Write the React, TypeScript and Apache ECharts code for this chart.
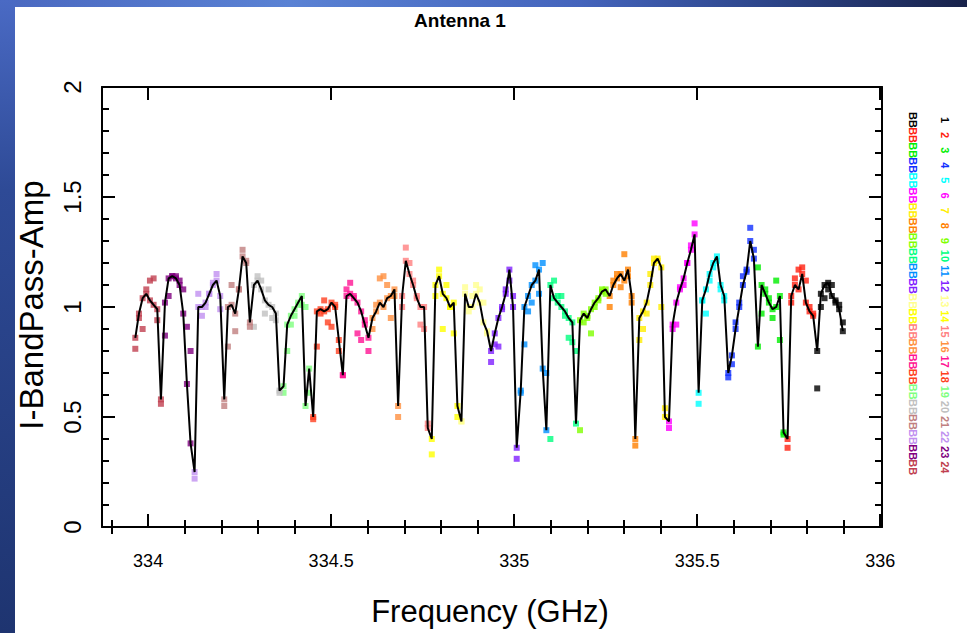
import React, { useEffect, useRef } from "react";
import * as echarts from "echarts";

// spectral windows, listed 1..24 (legend order, top to bottom)
const spwNames = ["1", "2", "3", "4", "5", "6", "7", "8", "9", "10", "11", "12", "13", "14", "15", "16", "17", "18", "19", "20", "21", "22", "23", "24"];
const spwColors = [
  "#000000", "#ff2010", "#00ee00", "#1030ff", "#00ffff", "#ff00ff", "#ffee00", "#ff8000",
  "#80ff00", "#00ff80", "#0090ff", "#8020ff", "#ffff90", "#ffff00", "#ff8080", "#ff9040",
  "#ff1493", "#ff4020", "#80ff80", "#c0c0c0", "#c08080", "#c090f0", "#800080", "#c04050",
];
// first channel frequency of each spw (GHz)
const spwStartGHz = [
  335.828, 335.747, 335.666, 335.585, 335.504, 335.423, 335.342, 335.261,
  335.180, 335.099, 335.018, 334.937, 334.856, 334.775, 334.694, 334.613,
  334.532, 334.451, 334.370, 334.289, 334.208, 334.127, 334.046, 333.965,
];
const chanWidthGHz = 0.01;

// amplitude, correlation joined by the black line
const ampLine = [
  [0.80, 1.06, 1.10, 1.11, 1.05, 1.03, 0.99, 0.89],
  [0.40, 1.05, 1.10, 1.08, 1.15, 1.02, 0.98, 0.96],
  [0.82, 1.10, 1.06, 1.02, 0.99, 1.00, 1.05, 0.43],
  [0.70, 0.78, 0.90, 1.00, 1.10, 1.16, 1.30, 1.22],
  [0.61, 1.03, 1.08, 1.15, 1.20, 1.23, 1.10, 1.05],
  [0.48, 0.92, 1.02, 1.08, 1.13, 1.20, 1.26, 1.33],
  [0.95, 0.98, 1.02, 1.10, 1.20, 1.22, 1.18, 0.50],
  [1.05, 1.10, 1.13, 1.15, 1.12, 1.17, 1.05, 0.40],
  [0.94, 0.97, 0.95, 0.99, 1.02, 1.04, 1.07, 1.08],
  [1.10, 1.04, 1.02, 1.00, 0.98, 0.95, 0.93, 0.47],
  [0.62, 1.00, 1.05, 1.10, 1.12, 1.17, 0.72, 0.44],
  [0.80, 0.88, 0.95, 1.00, 1.06, 1.17, 1.00, 0.36],
  [0.48, 1.06, 1.00, 1.00, 1.06, 1.02, 0.93, 0.89],
  [0.40, 1.10, 1.14, 1.06, 1.04, 1.00, 1.02, 0.55],
  [1.05, 1.21, 1.15, 1.10, 1.04, 1.00, 1.00, 0.45],
  [0.95, 0.98, 1.02, 1.00, 1.04, 1.05, 1.08, 0.55],
  [0.69, 1.05, 1.06, 1.04, 1.02, 0.98, 0.92, 0.86],
  [0.50, 0.98, 0.99, 0.98, 0.99, 1.02, 1.00, 0.85],
  [0.64, 0.92, 0.96, 0.99, 1.02, 1.05, 0.55, 0.72],
  [1.10, 1.12, 1.08, 1.03, 1.01, 1.00, 0.97, 0.62],
  [0.58, 1.00, 1.01, 0.97, 1.08, 1.23, 1.20, 0.93],
  [0.25, 1.00, 1.00, 1.02, 1.06, 1.10, 1.12, 1.05],
  [1.02, 1.13, 1.14, 1.13, 1.10, 0.97, 0.65, 0.38],
  [0.86, 0.97, 1.04, 1.06, 1.03, 1.01, 0.99, 0.58],
];
// amplitude, second correlation (points only)
const ampPoints = [
  [0.63, 1.00, 1.04, 1.08, 1.10, 1.02, 1.01, 0.93],
  [0.36, 1.02, 1.13, 1.17, 1.18, 1.12, 1.00, 0.97],
  [1.18, 0.97, 1.08, 1.04, 0.95, 1.12, 0.85, 0.42],
  [0.68, 0.74, 0.93, 1.02, 1.14, 1.17, 1.36, 1.26],
  [0.56, 1.03, 0.97, 1.12, 1.18, 1.21, 1.08, 1.03],
  [0.45, 0.90, 0.92, 1.09, 1.10, 1.20, 1.28, 1.38],
  [0.85, 0.90, 0.97, 1.15, 1.22, 1.21, 1.00, 0.54],
  [1.00, 1.12, 1.15, 1.09, 1.24, 1.14, 1.02, 0.37],
  [0.44, 0.93, 0.96, 0.88, 1.00, 1.03, 1.08, 1.06],
  [0.40, 1.12, 1.05, 1.05, 0.96, 0.86, 0.84, 0.80],
  [0.61, 0.83, 0.98, 1.02, 1.19, 1.06, 1.20, 0.70],
  [0.75, 0.83, 0.82, 0.99, 1.08, 1.12, 1.05, 0.31],
  [0.48, 1.09, 0.98, 1.05, 1.10, 1.08, 1.02, 0.88],
  [0.33, 1.05, 1.17, 0.90, 1.10, 1.00, 0.88, 0.50],
  [1.00, 1.27, 1.20, 1.12, 1.05, 0.92, 0.90, 0.47],
  [0.90, 1.01, 1.13, 1.14, 1.10, 0.95, 1.05, 0.50],
  [0.69, 1.08, 1.11, 1.05, 0.88, 0.85, 0.94, 0.80],
  [0.49, 0.82, 0.97, 1.03, 0.93, 0.91, 1.01, 0.80],
  [0.61, 0.80, 0.92, 0.96, 1.01, 1.01, 1.00, 0.61],
  [0.91, 1.14, 1.12, 0.97, 1.08, 0.95, 0.94, 0.61],
  [0.55, 0.82, 1.10, 0.89, 1.08, 1.26, 1.21, 0.91],
  [0.22, 1.06, 0.96, 1.00, 1.06, 1.11, 1.15, 0.99],
  [0.87, 1.05, 1.14, 1.14, 1.12, 1.08, 0.91, 0.80],
  [0.81, 0.95, 0.90, 1.08, 1.12, 1.13, 0.94, 0.56],
];

const xMajorTicks = [334, 334.5, 335, 335.5, 336];
const xMinorTicks = [333.9, 334.1, 334.2, 334.3, 334.4, 334.6, 334.7, 334.8, 334.9, 335.1, 335.2, 335.3, 335.4, 335.6, 335.7, 335.8, 335.9];

const X_MIN = 333.874;
const X_MAX = 336.005;
const Y_MIN = 0;
const Y_MAX = 2;

export default function App() {
  const ref = useRef<HTMLDivElement>(null);

  useEffect(() => {
    const chart = echarts.init(ref.current!, null, { renderer: "svg" });

    const chanFreq = (s: number, k: number) => +(spwStartGHz[s] + k * chanWidthGHz).toFixed(4);

    const scatterSeries = spwNames.map((name, s) => {
      const data: number[][] = [];
      ampLine[s].forEach((a, k) => data.push([chanFreq(s, k), a]));
      ampPoints[s].forEach((a, k) => data.push([chanFreq(s, k), a]));
      return {
        name,
        type: "scatter",
        symbol: "rect",
        symbolSize: 6,
        itemStyle: { color: spwColors[s] },
        data,
        z: 2,
      };
    });

    const lineData: number[][] = [];
    spwNames.forEach((_, s) => ampLine[s].forEach((a, k) => lineData.push([chanFreq(s, k), a])));
    lineData.sort((p, q) => p[0] - q[0]);

    const font = "Liberation Sans";
    const MAJ = 13;
    const MIN = 7;
    const tickLine = { color: "#000", width: 2 };

    const legendGraphics: any[] = [];
    spwNames.forEach((name, i) => {
      const yc = 120 + i * 15.1;
      const common = {
        fill: spwColors[i],
        fontSize: 11,
        fontWeight: "bold",
        fontFamily: font,
        align: "center",
        verticalAlign: "middle",
      };
      legendGraphics.push({ type: "text", x: 913, y: yc, rotation: -Math.PI / 2, style: { ...common, text: "BB" } });
      legendGraphics.push({ type: "text", x: 945, y: yc, rotation: -Math.PI / 2, style: { ...common, text: name } });
    });

    const option: any = {
      animation: false,
      backgroundColor: "#ffffff",
      grid: { left: 102, top: 87, width: 780, height: 440, containLabel: false },
      xAxis: [
        {
          type: "value",
          position: "bottom",
          min: X_MIN,
          max: X_MAX,
          splitLine: { show: false },
          axisLine: { show: true, onZero: false, lineStyle: { color: "#000", width: 2 } },
          axisTick: { show: true, inside: true, length: MAJ, customValues: xMajorTicks, lineStyle: tickLine },
          axisLabel: {
            show: true,
            customValues: xMajorTicks,
            margin: 25,
            fontSize: 18,
            fontFamily: font,
            color: "#000",
            formatter: (v: number) => String(v),
          },
        },
        {
          type: "value",
          position: "bottom",
          min: X_MIN,
          max: X_MAX,
          splitLine: { show: false },
          axisLine: { show: false },
          axisTick: { show: true, inside: true, length: MIN, customValues: xMinorTicks, lineStyle: tickLine },
          axisLabel: { show: false },
        },
        {
          type: "value",
          position: "top",
          min: X_MIN,
          max: X_MAX,
          splitLine: { show: false },
          axisLine: { show: true, onZero: false, lineStyle: { color: "#000", width: 2 } },
          axisTick: { show: true, inside: true, length: MAJ, customValues: xMajorTicks, lineStyle: tickLine },
          axisLabel: { show: false },
        },
        {
          type: "value",
          position: "top",
          min: X_MIN,
          max: X_MAX,
          splitLine: { show: false },
          axisLine: { show: false },
          axisTick: { show: true, inside: true, length: MIN, customValues: xMinorTicks, lineStyle: tickLine },
          axisLabel: { show: false },
        },
      ],
      yAxis: [
        {
          type: "value",
          position: "left",
          min: Y_MIN,
          max: Y_MAX,
          interval: 0.5,
          splitLine: { show: false },
          axisLine: { show: true, onZero: false, lineStyle: { color: "#000", width: 2 } },
          axisTick: { show: true, inside: true, length: MAJ, lineStyle: tickLine },
          minorTick: { show: true, splitNumber: 5, length: MIN, lineStyle: tickLine },
          axisLabel: {
            show: true,
            rotate: 90,
            margin: 18,
            fontSize: 24,
            fontFamily: font,
            color: "#000",
            formatter: (v: number) => String(v),
          },
        },
        {
          type: "value",
          position: "right",
          min: Y_MIN,
          max: Y_MAX,
          interval: 0.5,
          splitLine: { show: false },
          axisLine: { show: true, onZero: false, lineStyle: { color: "#000", width: 2 } },
          axisTick: { show: true, inside: true, length: MAJ, lineStyle: tickLine },
          minorTick: { show: true, splitNumber: 5, length: MIN, lineStyle: tickLine },
          axisLabel: { show: false },
        },
      ],
      series: [
        ...scatterSeries,
        {
          name: "line",
          type: "line",
          data: lineData,
          showSymbol: false,
          symbol: "none",
          lineStyle: { color: "#000", width: 2 },
          z: 3,
        },
      ],
      graphic: [
        {
          type: "rect",
          shape: { x: 0, y: 0, width: 967, height: 7 },
          style: {
            fill: {
              type: "linear", x: 0, y: 0, x2: 1, y2: 0,
              colorStops: [
                { offset: 0, color: "#4a68c0" },
                { offset: 0.3, color: "#5a82d4" },
                { offset: 0.6, color: "#4464bc" },
                { offset: 0.8, color: "#2c4488" },
                { offset: 1, color: "#18224a" },
              ],
            },
          },
          z: 10,
        },
        {
          type: "rect",
          shape: { x: 0, y: 0, width: 15, height: 633 },
          style: {
            fill: {
              type: "linear", x: 0, y: 0, x2: 0, y2: 1,
              colorStops: [
                { offset: 0, color: "#4a6ac4" },
                { offset: 0.3, color: "#2e4a96" },
                { offset: 1, color: "#1e3470" },
              ],
            },
          },
          z: 10,
        },
        {
          type: "text",
          x: 460,
          y: 20,
          style: {
            text: "Antenna 1",
            fill: "#000",
            fontSize: 19,
            fontWeight: "bold",
            fontFamily: font,
            align: "center",
            verticalAlign: "middle",
          },
        },
        {
          type: "text",
          x: 490,
          y: 611,
          style: {
            text: "Frequency (GHz)",
            fill: "#000",
            fontSize: 31,
            fontFamily: font,
            align: "center",
            verticalAlign: "middle",
          },
        },
        {
          type: "text",
          x: 31,
          y: 305,
          rotation: Math.PI / 2,
          style: {
            text: "I-BandPass-Amp",
            fill: "#000",
            fontSize: 33,
            fontFamily: font,
            align: "center",
            verticalAlign: "middle",
          },
        },
        ...legendGraphics,
      ],
    };

    chart.setOption(option);
    return () => chart.dispose();
  }, []);

  return (
    <div
      ref={ref}
      style={{ position: "fixed", left: 0, top: 0, width: 967, height: 633, background: "#ffffff" }}
    />
  );
}
